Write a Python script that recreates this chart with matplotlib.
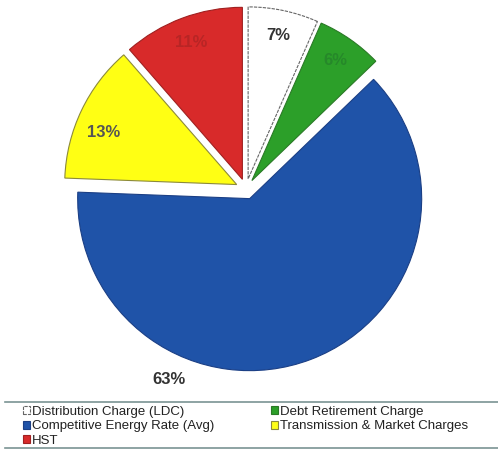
import matplotlib.pyplot as plt
from matplotlib.lines import Line2D

plt.rcParams['font.family'] = ['Liberation Sans', 'DejaVu Sans']

# slices, clockwise from 12 o'clock (shares)
categories = ["Distribution Charge (LDC)", "Debt Retirement Charge",
              "Competitive Energy Rate (Avg)", "Transmission & Market Charges", "HST"]
shares = [6.6, 6.2, 62.8, 13.0, 11.4]
colours = ["#ffffff", "#2c9f29", "#1f53a8", "#ffff14", "#d82a2a"]
edge_colours = ["#666666", "#2a7a26", "#1b3f85", "#8c8a3a", "#a02020"]
label_colours = ["#333333", "#26882a", "#333333", "#555555", "#b82525"]
legend_order = [0, 2, 4, 1, 3]

fig = plt.figure(figsize=(4.98, 4.51), dpi=100)
ax = fig.add_axes([0, 0, 1, 1])

wedges, texts, autotexts = ax.pie(
    shares, colors=colours, startangle=90, counterclock=False,
    explode=[0.06] * len(shares), autopct=lambda p: f"{p:.0f}%",
    pctdistance=0.85, wedgeprops=dict(linewidth=0.8),
    textprops=dict(fontsize=12, fontweight='bold'))

for w, ec in zip(wedges, edge_colours):
    w.set_edgecolor(ec)
wedges[0].set_linestyle((0, (3, 1)))
for t, c in zip(autotexts, label_colours):
    t.set_color(c)
# the big slice has its label outside, below the pie
autotexts[2].set_position((-0.45, -1.107))
autotexts[3].set_position((-0.83, 0.33))

# pixel-matched limits: centre at (246, 189) px, radius 172 px
R = 172.0
cx, cy = 246.0, 189.0
ax.set_xlim(-cx / R, (498 - cx) / R)
ax.set_ylim(-(451 - cy) / R, cy / R)
ax.set_aspect('auto')
ax.axis('off')

handles = [wedges[i] for i in legend_order]
labels = [categories[i] for i in legend_order]
fig.legend(handles, labels, loc='upper left', bbox_to_anchor=(0.046, 0.100),
           ncol=2, frameon=False, fontsize=9.5, handlelength=0.55,
           handleheight=0.55, handletextpad=0.15, columnspacing=4.3,
           labelspacing=0.18, borderaxespad=0, borderpad=0,
           labelcolor="#222222")

for y in [1 - 402 / 451, 1 - 448 / 451]:
    fig.add_artist(Line2D([0.01, 1.0], [y, y], transform=fig.transFigure,
                          color="#7a9494", linewidth=1.2))

fig.savefig("out.png", dpi=100)
